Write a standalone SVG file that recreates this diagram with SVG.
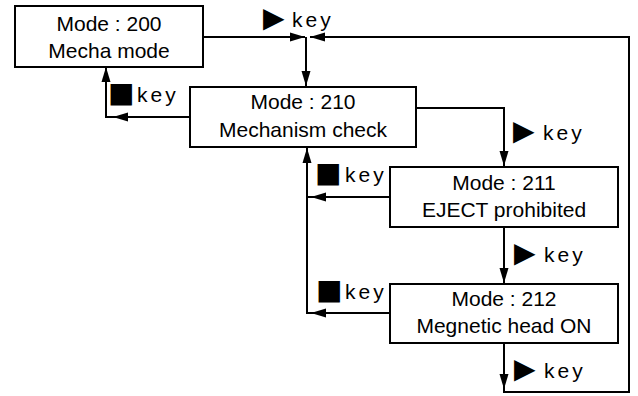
<svg xmlns="http://www.w3.org/2000/svg" width="638" height="396" viewBox="0 0 638 396">
<style>
.box{fill:#fff;stroke:#000;stroke-width:2}
.t{font-family:"Liberation Sans",Arial,sans-serif;font-size:21px;fill:#000;text-anchor:middle}
.k{font-family:"Liberation Sans",Arial,sans-serif;font-size:21px;fill:#000;letter-spacing:3px}
.sym{font-family:"DejaVu Sans",sans-serif;font-size:28px;letter-spacing:0}
.c{fill:none;stroke:#000;stroke-width:2}
</style>
<defs>
<marker id="ah" markerUnits="userSpaceOnUse" markerWidth="16" markerHeight="10" refX="15" refY="5" orient="auto">
<path d="M0,0.5 L15,5 L0,9.5 Z" fill="#000"/>
</marker>
</defs>
<rect width="638" height="396" fill="#fff"/>
<g id="connectors">
<path class="c" d="M203,37 H305" marker-end="url(#ah)"/>
<path class="c" d="M306,37 V86" marker-end="url(#ah)"/>
<path class="c" d="M504,343 V389" marker-end="url(#ah)"/>
<path class="c" d="M504,388 V392 H629 V37 H310" marker-end="url(#ah)"/>
<path class="c" d="M416,108 H504 V166" marker-end="url(#ah)"/>
<path class="c" d="M504,227 V283" marker-end="url(#ah)"/>
<path class="c" d="M190,117 H113" marker-end="url(#ah)"/>
<path class="c" d="M114,117 H106 V67" marker-end="url(#ah)"/>
<path class="c" d="M390,197 H311" marker-end="url(#ah)"/>
<path class="c" d="M312,197 H307 V148" marker-end="url(#ah)"/>
<path class="c" d="M390,313 H311" marker-end="url(#ah)"/>
<path class="c" d="M312,313 H307 V197"/>
</g>
<g id="labels">
<text class="k" y="27"><tspan class="sym" x="263">▶</tspan><tspan x="292">key</tspan></text>
<text class="k" y="102"><tspan class="sym" x="108">■</tspan><tspan x="137">key</tspan></text>
<text class="k" y="140"><tspan class="sym" x="513">▶</tspan><tspan x="543">key</tspan></text>
<text class="k" y="182"><tspan class="sym" x="315">■</tspan><tspan x="345">key</tspan></text>
<text class="k" y="262"><tspan class="sym" x="514">▶</tspan><tspan x="544">key</tspan></text>
<text class="k" y="299"><tspan class="sym" x="316">■</tspan><tspan x="345">key</tspan></text>
<text class="k" y="378"><tspan class="sym" x="514">▶</tspan><tspan x="544">key</tspan></text>
</g>
<g id="mode200">
<rect class="box" x="15" y="6" width="188" height="61"/>
<text class="t" x="109" y="31">Mode : 200</text>
<text class="t" x="109" y="58">Mecha mode</text>
</g>
<g id="mode210">
<rect class="box" x="190" y="87" width="226" height="60"/>
<text class="t" x="303" y="109">Mode : 210</text>
<text class="t" x="303" y="137">Mechanism check</text>
</g>
<g id="mode211">
<rect class="box" x="390" y="167" width="228" height="60"/>
<text class="t" x="504" y="190">Mode : 211</text>
<text class="t" x="504" y="217">EJECT prohibited</text>
</g>
<g id="mode212">
<rect class="box" x="390" y="284" width="228" height="59"/>
<text class="t" x="504" y="306">Mode : 212</text>
<text class="t" x="504" y="333">Megnetic head ON</text>
</g>
</svg>
